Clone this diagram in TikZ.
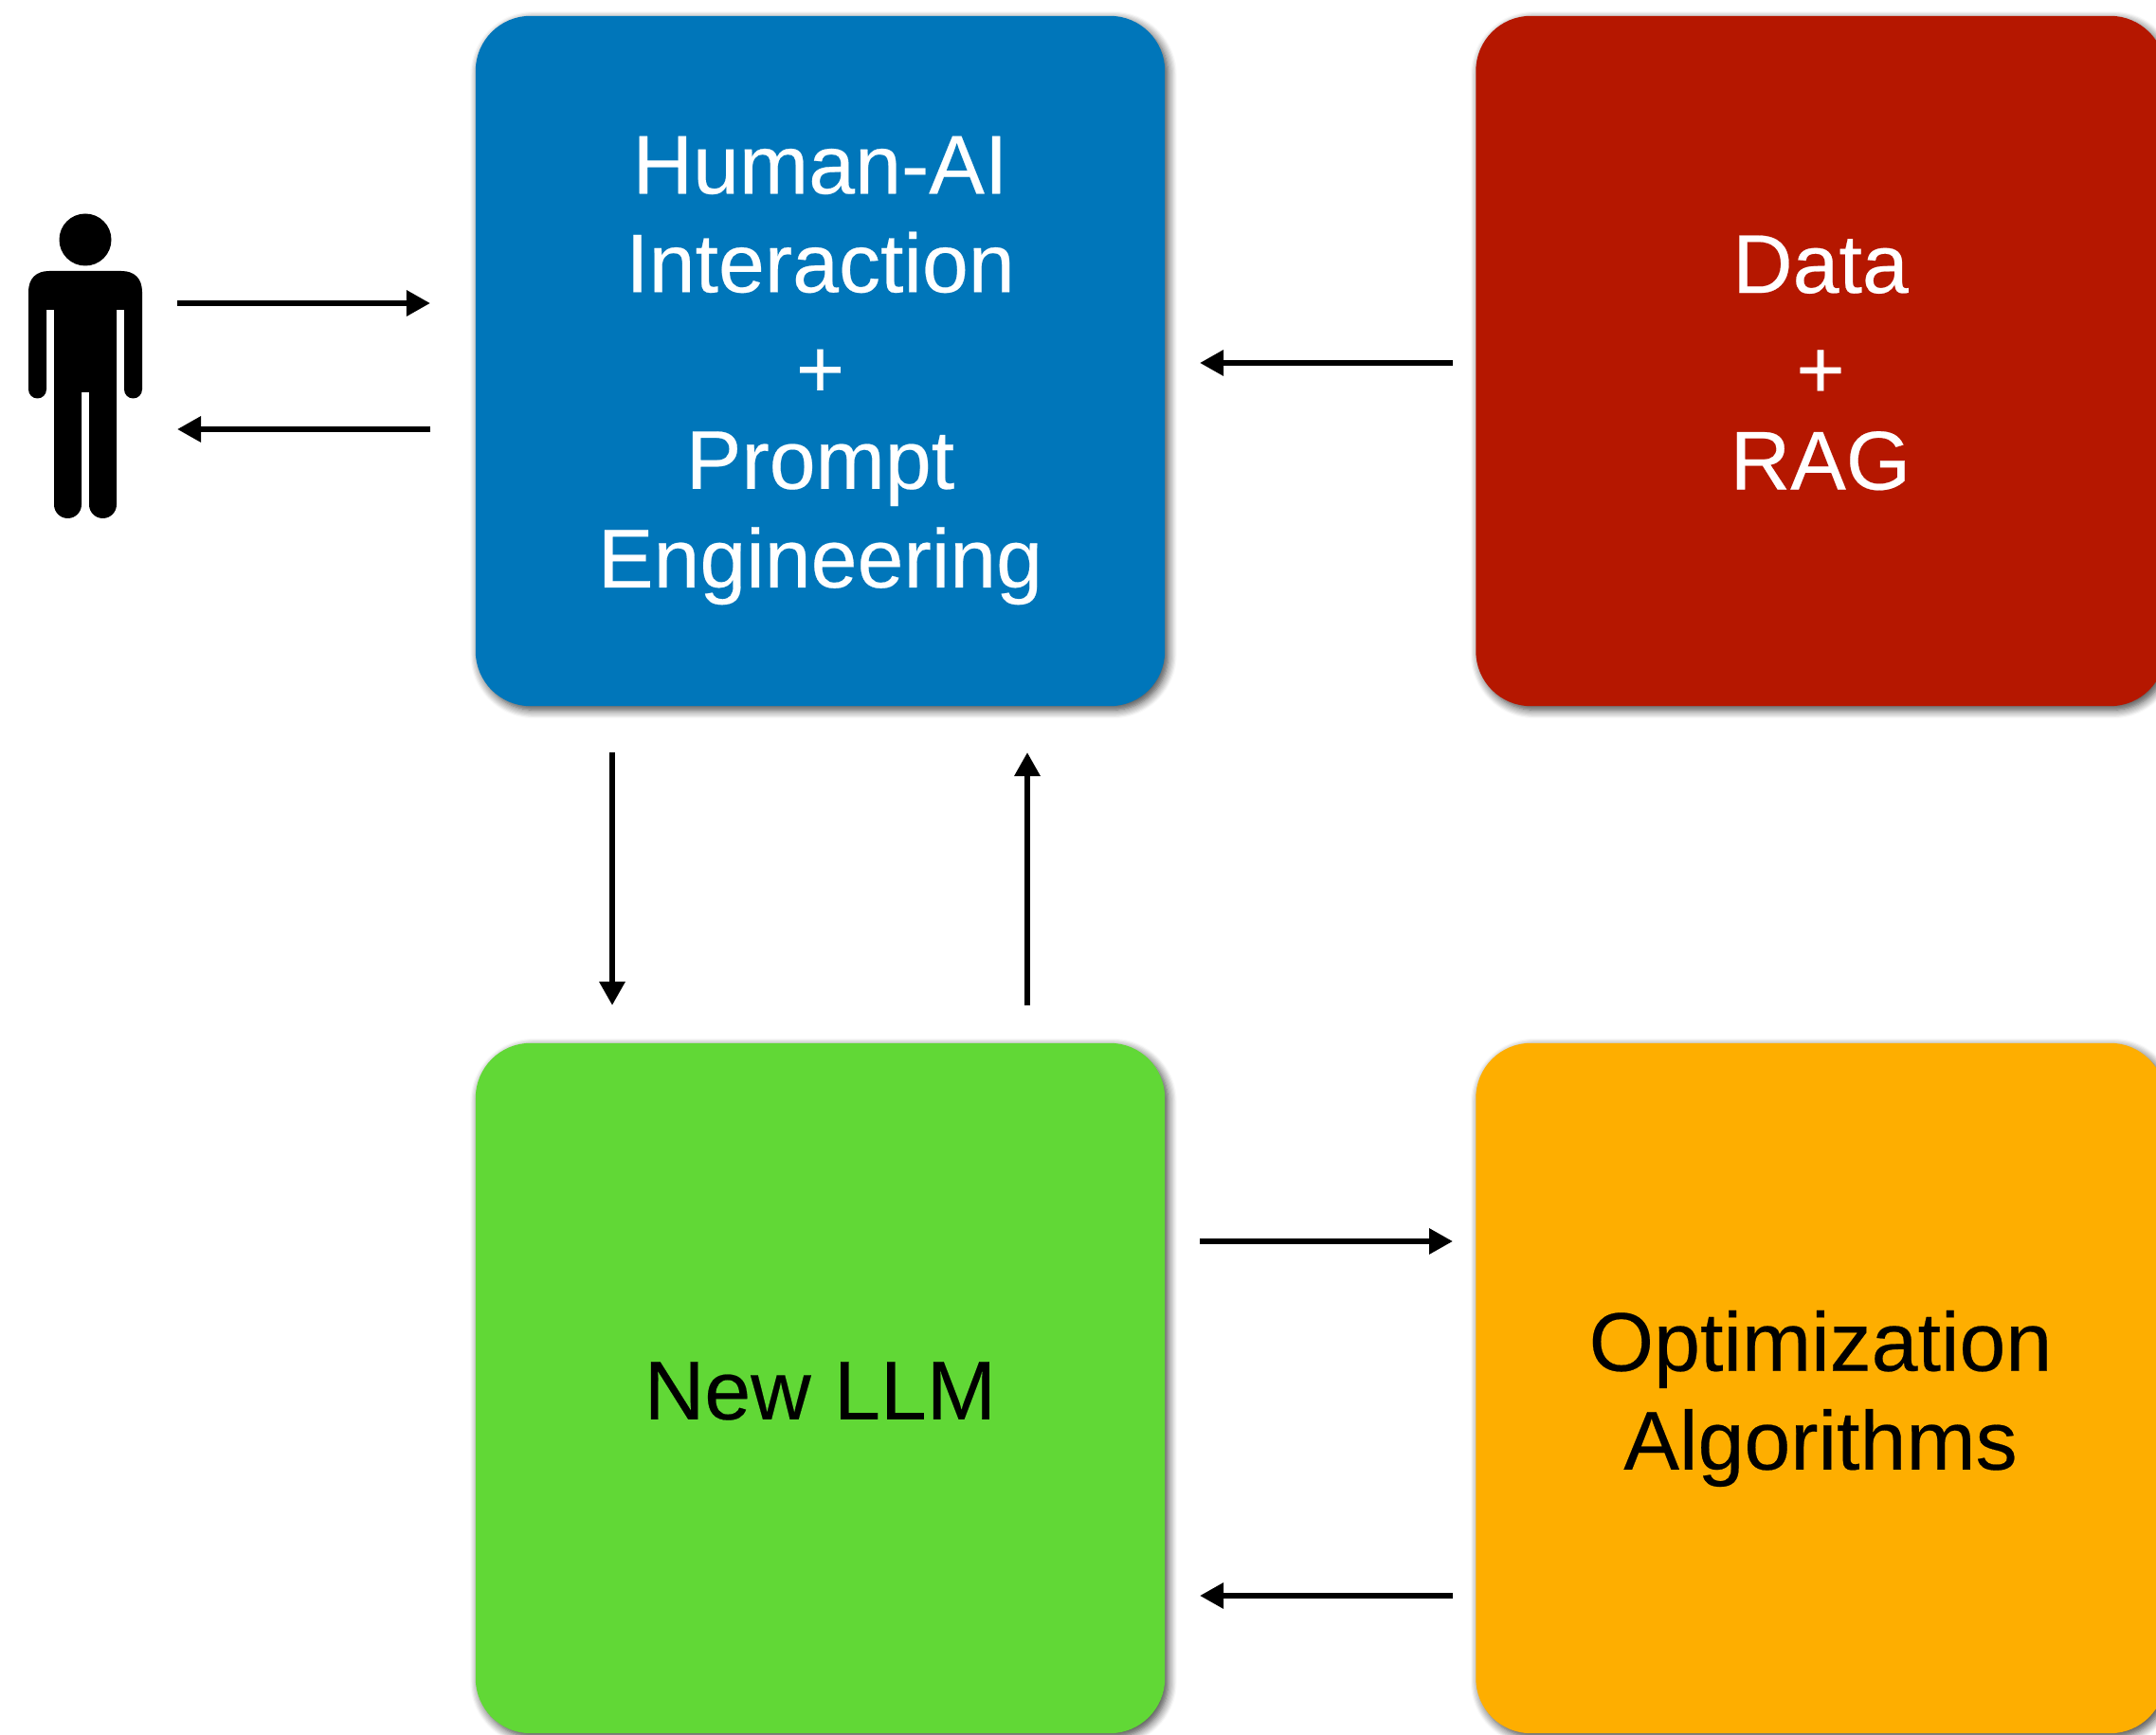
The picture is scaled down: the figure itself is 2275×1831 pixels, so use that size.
\documentclass[tikz,border=0pt]{standalone}
\usepackage{fontspec}
\setmainfont{Liberation Sans}
\newfontfamily\boxfont{Liberation Sans}[FakeBold=0.25]
\usetikzlibrary{arrows.meta,shadows.blur}
\definecolor{boxblue}{HTML}{0076BA}
\definecolor{boxred}{HTML}{B51700}
\definecolor{boxgreen}{HTML}{61D836}
\definecolor{boxorange}{HTML}{FEAE00}
\tikzset{
    box/.style={rounded corners=0.58cm, minimum width=7.27cm, minimum height=7.28cm, inner sep=0pt,
        blur shadow={shadow xshift=0.035cm, shadow yshift=-0.04cm, shadow blur radius=0.09cm, shadow opacity=75, shadow blur steps=8}},
    boxtext/.style={inner sep=0pt, align=center, font=\boxfont\fontsize{25}{29.6}\selectfont},
    flow/.style={line width=0.06cm, -{Triangle[length=0.25cm, width=0.26cm]}}
}

\begin{document}
\begin{tikzpicture}[x=0.01cm, y=-0.01cm]
            \useasboundingbox (0,0) rectangle (2275,1831);
            \node[box, fill=boxblue] (Prompt) at (865.5,381) {};
            \node[box, fill=boxred] (Data) at (1921,381) {};
            \node[box, fill=boxgreen] (LLM) at (865.5,1465) {};
            \node[box, fill=boxorange] (Optim) at (1921,1465) {};
            \node[boxtext, text=white, yshift=-0.10cm] (PromptText) at (Prompt) {Human-AI\\Interaction\\[2pt]+\\[-2.2pt]Prompt\\Engineering};
            \node[boxtext, text=white, yshift=-0.02cm] (DataText) at (Data) {Data\\[2pt]+\\[-2.2pt]RAG};
            \node[boxtext, yshift=-0.03cm] (LLMText) at (LLM) {New LLM};
            \node[boxtext, yshift=-0.11cm] (OptimText) at (Optim) {Optimization\\Algorithms};
            % the person
            \fill (90,253) circle (27.5);
            \fill (52,286) -- (128,286) .. controls (142,286) and (150,294) .. (150,308) -- (150,411)
                arc (0:180:9.5) -- (131,327) -- (123,327) -- (123,532.5)
                arc (0:180:14.5) -- (94,414) -- (86,414) -- (86,532.5)
                arc (0:180:14.5) -- (57,327) -- (49,327) -- (49,411)
                arc (0:180:9.5) -- (30,308) .. controls (30,294) and (38,286) .. (52,286) -- cycle;
            % free ends of the arrows
            \coordinate (A1) at (187,320);
            \coordinate (A2) at (454,320);
            \coordinate (B1) at (454,453);
            \coordinate (B2) at (187,453);
            \coordinate (C1) at (1533,383);
            \coordinate (C2) at (1266,383);
            \coordinate (D1) at (646,794);
            \coordinate (D2) at (646,1061);
            \coordinate (E1) at (1084,1061);
            \coordinate (E2) at (1084,794);
            \coordinate (F1) at (1266,1310);
            \coordinate (F2) at (1533,1310);
            \coordinate (G1) at (1533,1684);
            \coordinate (G2) at (1266,1684);
            \draw[flow] (A1)--(A2);
            \draw[flow] (B1)--(B2);
            \draw[flow] (C1)--(C2);
            \draw[flow] (D1)--(D2);
            \draw[flow] (E1)--(E2);
            \draw[flow] (F1)--(F2);
            \draw[flow] (G1)--(G2);
        \end{tikzpicture}
\end{document}
